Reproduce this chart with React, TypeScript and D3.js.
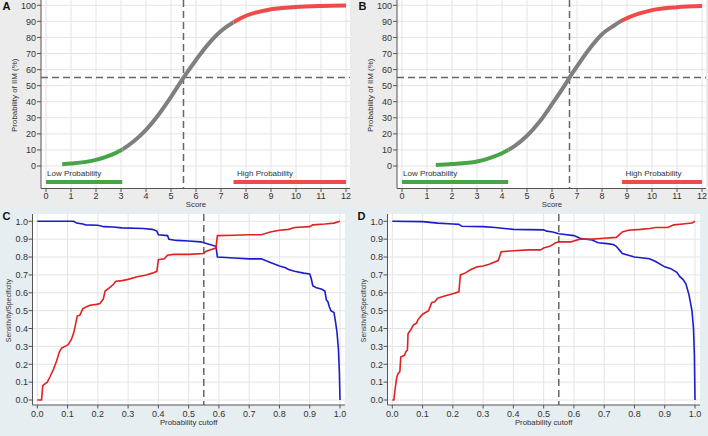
import React from "react";
import * as d3 from "d3";

// ---------- Data ----------
const scoreTicks = [0, 1, 2, 3, 4, 5, 6, 7, 8, 9, 10, 11, 12];
const probTicks = [0, 10, 20, 30, 40, 50, 60, 70, 80, 90, 100];
const cutTicks = [0, 0.1, 0.2, 0.3, 0.4, 0.5, 0.6, 0.7, 0.8, 0.9, 1.0];
const sensTicks = [0, 0.1, 0.2, 0.3, 0.4, 0.5, 0.6, 0.7, 0.8, 0.9, 1.0];

const scoreA = [0.65, 1, 2, 3, 3.5, 4, 4.5, 5, 5.5, 6, 6.5, 7, 7.5, 8, 9, 10, 11, 12];
const probA = [1.1, 1.5, 3.8, 9.8, 15.2, 22.5, 31.9, 43, 55, 66, 76, 84, 89.5, 93.5, 97.5, 99, 99.6, 99.8];
const cutoffScoreA = 5.5;
const lowRangeA = [0, 3.05];
const highRangeA = [7.5, 12];

const scoreB = [1.35, 2, 3, 3.5, 4, 4.25, 4.5, 5, 5.5, 6, 6.5, 6.7, 7, 7.5, 8, 8.5, 8.8, 9, 10, 11, 12];
const probB = [0.7, 1.2, 2.8, 4.9, 7.9, 10, 12.4, 18.8, 27.5, 38.5, 50, 55, 62, 73, 82, 87.6, 90.5, 92, 97, 98.8, 99.5];
const cutoffScoreB = 6.7;
const lowRangeB = [0, 4.25];
const highRangeB = [8.8, 12];

const cutoffProb = 0.55;
const refProb = 55;
const lowLabel = "Low Probability";
const highLabel = "High Probability";

const cutC = [0, 0.014, 0.018, 0.025, 0.033, 0.042, 0.053, 0.064, 0.073, 0.08, 0.091, 0.102, 0.113, 0.121, 0.132, 0.141, 0.15, 0.161, 0.174, 0.196, 0.207, 0.218, 0.224, 0.24, 0.25, 0.26, 0.28, 0.3, 0.33, 0.36, 0.38, 0.395, 0.4, 0.42, 0.43, 0.45, 0.5, 0.55, 0.555, 0.57, 0.59, 0.595, 0.65, 0.7, 0.74, 0.77, 0.8, 0.83, 0.85, 0.9, 0.91, 0.95, 0.98, 1.0];
const specC = [0, 0, 0.08, 0.09, 0.1, 0.13, 0.17, 0.22, 0.27, 0.29, 0.3, 0.31, 0.34, 0.38, 0.47, 0.475, 0.51, 0.52, 0.53, 0.535, 0.54, 0.565, 0.61, 0.63, 0.645, 0.665, 0.668, 0.675, 0.69, 0.7, 0.71, 0.72, 0.785, 0.79, 0.81, 0.815, 0.815, 0.82, 0.83, 0.84, 0.85, 0.92, 0.922, 0.925, 0.925, 0.94, 0.95, 0.955, 0.965, 0.97, 0.98, 0.985, 0.99, 1.0];

const cutC2 = [0, 0.12, 0.13, 0.15, 0.16, 0.2, 0.22, 0.25, 0.28, 0.35, 0.38, 0.395, 0.4, 0.43, 0.435, 0.46, 0.5, 0.54, 0.55, 0.57, 0.59, 0.595, 0.65, 0.7, 0.74, 0.77, 0.8, 0.82, 0.83, 0.85, 0.88, 0.9, 0.905, 0.91, 0.92, 0.94, 0.95, 0.955, 0.96, 0.965, 0.97, 0.98, 0.985, 0.99, 0.995, 0.998, 1.0];
const sensC = [1.0, 1.0, 0.99, 0.985, 0.98, 0.978, 0.97, 0.968, 0.963, 0.96, 0.955, 0.945, 0.925, 0.92, 0.9, 0.893, 0.89, 0.885, 0.88, 0.87, 0.86, 0.8, 0.795, 0.79, 0.79, 0.77, 0.75, 0.74, 0.73, 0.72, 0.71, 0.705, 0.68, 0.64, 0.63, 0.62, 0.61, 0.56, 0.55, 0.52, 0.5, 0.49, 0.44, 0.38, 0.28, 0.15, 0.0];

const cutD = [0, 0.005, 0.01, 0.015, 0.02, 0.025, 0.028, 0.04, 0.045, 0.05, 0.052, 0.06, 0.07, 0.08, 0.085, 0.1, 0.12, 0.13, 0.14, 0.15, 0.17, 0.2, 0.22, 0.225, 0.24, 0.26, 0.28, 0.3, 0.32, 0.35, 0.36, 0.4, 0.45, 0.49, 0.5, 0.52, 0.54, 0.55, 0.59, 0.6, 0.62, 0.66, 0.7, 0.74, 0.76, 0.78, 0.82, 0.85, 0.87, 0.91, 0.93, 0.96, 0.99, 1.0];
const specD = [0, 0, 0.07, 0.13, 0.15, 0.16, 0.24, 0.25, 0.27, 0.28, 0.37, 0.39, 0.42, 0.43, 0.45, 0.48, 0.5, 0.545, 0.55, 0.57, 0.58, 0.595, 0.605, 0.7, 0.71, 0.73, 0.745, 0.75, 0.76, 0.78, 0.83, 0.835, 0.84, 0.84, 0.85, 0.86, 0.88, 0.885, 0.885, 0.89, 0.9, 0.9, 0.905, 0.91, 0.94, 0.95, 0.955, 0.96, 0.965, 0.965, 0.98, 0.985, 0.99, 1.0];

const cutD2 = [0, 0.1, 0.15, 0.2, 0.22, 0.23, 0.3, 0.34, 0.37, 0.4, 0.5, 0.51, 0.53, 0.55, 0.6, 0.62, 0.64, 0.66, 0.68, 0.71, 0.73, 0.74, 0.75, 0.76, 0.78, 0.8, 0.85, 0.87, 0.9, 0.92, 0.94, 0.95, 0.96, 0.97, 0.98, 0.99, 0.995, 0.998, 1.0];
const sensD = [1.0, 0.998, 0.99, 0.985, 0.983, 0.972, 0.97, 0.965, 0.96, 0.955, 0.952, 0.945, 0.94, 0.93, 0.92, 0.905, 0.9, 0.895, 0.88, 0.875, 0.87, 0.86, 0.84, 0.82, 0.81, 0.8, 0.79, 0.775, 0.745, 0.735, 0.715, 0.69, 0.675, 0.65, 0.59, 0.5, 0.4, 0.25, 0.0];

// ---------- Styles ----------
const FONT = "'Liberation Sans', Arial, sans-serif";
const TXT = "#333";
const AXIS = "#555";
const GRID = "#e4e4e4";
const GREEN = "#47a447";
const GRAYC = "#7f7f7f";
const REDC = "#f04a4a";
const LBLUE = "#1c1ccc";
const LRED = "#e02222";

type TopProps = {
  dx: number; letter: string; scores: number[]; probs: number[]; cutoff: number;
  low: number[]; high: number[];
};

function TopPanel({ dx, letter, scores, probs, cutoff, low, high }: TopProps) {
  const x = d3.scaleLinear().domain([0, 12]).range([dx + 46, dx + 346]);
  const y = d3.scaleLinear().domain([-14, 100]).range([188.5, 5.3]);
  const left = dx + 41, right = dx + 350, top = 0, bottom = 188.5;
  const pts = scores.map((s, i) => [s, probs[i]] as [number, number]);
  const line = d3.line<[number, number]>().x(d => x(d[0])).y(d => y(d[1])).curve(d3.curveMonotoneX);
  const path = line(pts) || "";
  const id = "clip" + letter;
  const segs = [
    { from: -1, to: low[1], color: GREEN },
    { from: low[1], to: high[0], color: GRAYC },
    { from: high[0], to: 13, color: REDC },
  ];
  return (
    <g fontFamily={FONT}>
      <rect x={left} y={top} width={right - left} height={bottom - top} fill="#fff" />
      {scoreTicks.map(t => <line key={"gx" + t} x1={x(t)} x2={x(t)} y1={top} y2={bottom} stroke={GRID} />)}
      {probTicks.map(t => <line key={"gy" + t} x1={left} x2={right} y1={y(t)} y2={y(t)} stroke={GRID} />)}
      <defs>
        {segs.map((s, i) => (
          <clipPath key={i} id={id + i}>
            <rect x={x(s.from)} y={-10} width={x(s.to) - x(s.from)} height={220} />
          </clipPath>
        ))}
      </defs>
      <line x1={x(cutoff)} x2={x(cutoff)} y1={top} y2={bottom} stroke="#666" strokeWidth={1.5} strokeDasharray="7,4" />
      <line x1={left} x2={right} y1={y(refProb)} y2={y(refProb)} stroke="#666" strokeWidth={1.5} strokeDasharray="7,4" />
      {segs.map((s, i) => (
        <path key={i} d={path} fill="none" stroke={s.color} strokeWidth={4} clipPath={`url(#${id + i})`} />
      ))}
      <line x1={x(low[0])} x2={x(low[1])} y1={y(-10)} y2={y(-10)} stroke={GREEN} strokeWidth={4} />
      <line x1={x(high[0])} x2={x(high[1])} y1={y(-10)} y2={y(-10)} stroke={REDC} strokeWidth={4} />
      <text x={x(low[0]) + 1} y={y(-6.5)} fontSize={8} fill={TXT}>{lowLabel}</text>
      <text x={x(high[0]) + 3.5} y={y(-6.5)} fontSize={8} fill={TXT}>{highLabel}</text>
      {/* axes */}
      <line x1={left} x2={left} y1={top} y2={bottom} stroke={AXIS} />
      <line x1={left} x2={right} y1={bottom} y2={bottom} stroke={AXIS} />
      {probTicks.map(t => (
        <g key={"ty" + t}>
          <line x1={left - 4} x2={left} y1={y(t)} y2={y(t)} stroke={AXIS} />
          <text x={left - 5} y={y(t) + 3.3} fontSize={9} textAnchor="end" fill={TXT}>{t}</text>
        </g>
      ))}
      {scoreTicks.map(t => (
        <g key={"tx" + t}>
          <line x1={x(t)} x2={x(t)} y1={bottom} y2={bottom + 3.5} stroke={AXIS} />
          <text x={x(t)} y={bottom + 10.5} fontSize={9} textAnchor="middle" fill={TXT}>{t}</text>
        </g>
      ))}
      <text x={(x(0) + x(12)) / 2} y={207} fontSize={7.8} textAnchor="middle" fill={TXT}>Score</text>
      <text transform={`translate(${dx + 17},${y(44)}) rotate(-90)`} fontSize={7.9} textAnchor="middle" fill={TXT}>Probability of IIM (%)</text>
      <text x={dx + 2.5} y={10} fontSize={11} fontWeight="bold" fill="#111">{letter}</text>
    </g>
  );
}

type BotProps = {
  dx: number; letter: string; cutR: number[]; spec: number[]; cutB: number[]; sens: number[];
};

function BottomPanel({ dx, letter, cutR, spec, cutB, sens }: BotProps) {
  const x = d3.scaleLinear().domain([0, 1]).range([dx + 37.3, dx + 340]);
  const y = d3.scaleLinear().domain([0, 1]).range([400, 221.3]);
  const left = dx + 32.5, right = dx + 345, top = 214, bottom = 405;
  const line = d3.line<[number, number]>().x(d => x(d[0])).y(d => y(d[1]));
  const red = line(cutR.map((c, i) => [c, spec[i]] as [number, number])) || "";
  const blue = line(cutB.map((c, i) => [c, sens[i]] as [number, number])) || "";
  const fmt = d3.format(".1f");
  return (
    <g fontFamily={FONT}>
      <rect x={left} y={top} width={right - left} height={bottom - top} fill="#fff" />
      {cutTicks.map(t => <line key={"gx" + t} x1={x(t)} x2={x(t)} y1={top} y2={bottom} stroke={GRID} />)}
      {sensTicks.map(t => <line key={"gy" + t} x1={left} x2={right} y1={y(t)} y2={y(t)} stroke={GRID} />)}
      <line x1={x(cutoffProb)} x2={x(cutoffProb)} y1={top} y2={bottom} stroke="#666" strokeWidth={1.5} strokeDasharray="7,4" />
      <path d={blue} fill="none" stroke={LBLUE} strokeWidth={1.6} />
      <path d={red} fill="none" stroke={LRED} strokeWidth={1.6} />
      <line x1={left} x2={left} y1={top} y2={bottom} stroke={AXIS} />
      <line x1={left} x2={right} y1={bottom} y2={bottom} stroke={AXIS} />
      {sensTicks.map(t => (
        <g key={"ty" + t}>
          <line x1={left - 4} x2={left} y1={y(t)} y2={y(t)} stroke={AXIS} />
          <text x={left - 4.5} y={y(t) + 3.3} fontSize={9} textAnchor="end" fill={TXT}>{fmt(t)}</text>
        </g>
      ))}
      {cutTicks.map(t => (
        <g key={"tx" + t}>
          <line x1={x(t)} x2={x(t)} y1={bottom} y2={bottom + 3.5} stroke={AXIS} />
          <text x={x(t)} y={bottom + 11.5} fontSize={9} textAnchor="middle" fill={TXT}>{fmt(t)}</text>
        </g>
      ))}
      <text x={(x(0) + x(1)) / 2} y={424.5} fontSize={7.8} textAnchor="middle" fill={TXT}>Probability cutoff</text>
      <text transform={`translate(${dx + 10.5},${y(0.5)}) rotate(-90)`} fontSize={7.8} textLength={63} lengthAdjust="spacingAndGlyphs" textAnchor="middle" fill={TXT}>Sensitivity/Specificity</text>
      <text x={dx + 2.5} y={219.5} fontSize={11} fontWeight="bold" fill="#111">{letter}</text>
    </g>
  );
}

export default function App() {
  return (
    <svg width={708} height={436} style={{ position: "absolute", left: 0, top: 0 }}>
      <rect x={0} y={0} width={708} height={207} fill="#ececec" />
      <rect x={0} y={207} width={708} height={229} fill="#e7eef1" />
      <TopPanel dx={0} letter="A" scores={scoreA} probs={probA} cutoff={cutoffScoreA} low={lowRangeA} high={highRangeA} />
      <TopPanel dx={356} letter="B" scores={scoreB} probs={probB} cutoff={cutoffScoreB} low={lowRangeB} high={highRangeB} />
      <BottomPanel dx={0} letter="C" cutR={cutC} spec={specC} cutB={cutC2} sens={sensC} />
      <BottomPanel dx={355} letter="D" cutR={cutD} spec={specD} cutB={cutD2} sens={sensD} />
    </svg>
  );
}
